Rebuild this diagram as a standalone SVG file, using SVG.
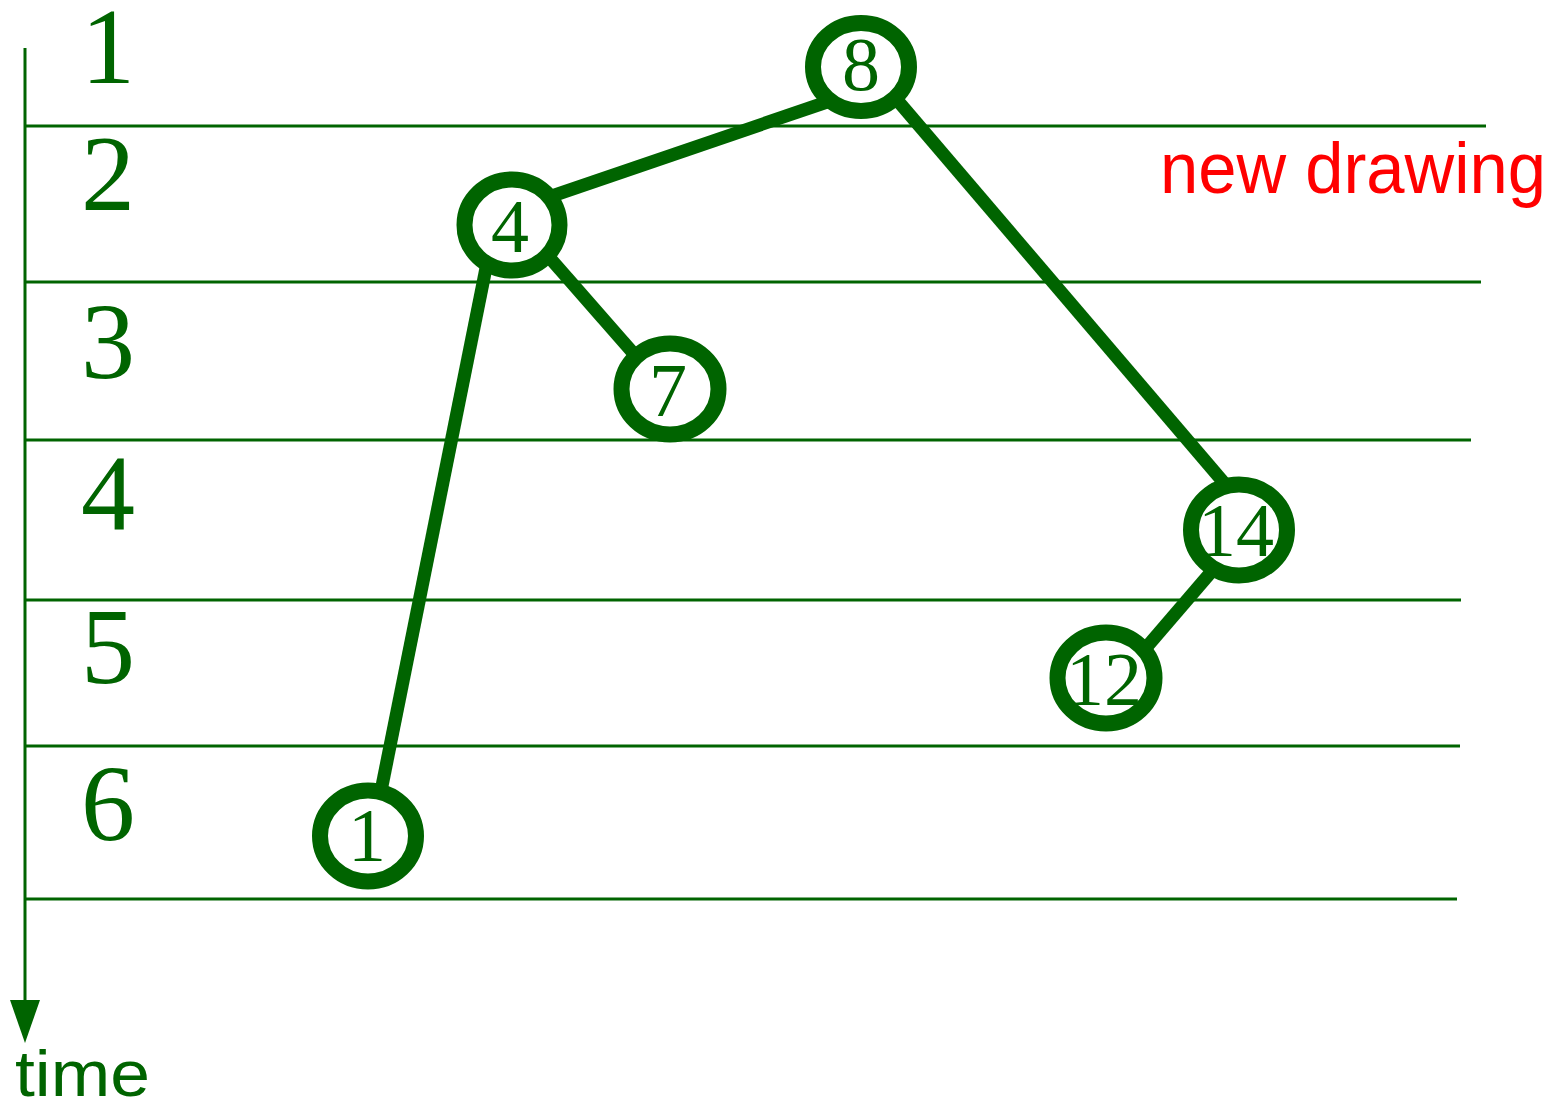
<svg xmlns="http://www.w3.org/2000/svg" width="1557" height="1107" viewBox="0 0 1557 1107">
  <style>
    .row { stroke: #006400; stroke-width: 3; fill: none; }
    .edge { stroke: #006400; stroke-width: 13; fill: none; }
    .node ellipse { fill: #ffffff; stroke: #006400; stroke-width: 16; }
    .num { font-family: "Liberation Serif", serif; fill: #006400; text-anchor: middle; }
    .lbl { font-size: 108px; }
    .nlbl { font-size: 76px; }
    .sans { font-family: "Liberation Sans", sans-serif; }
  </style>

  <!-- time axis -->
  <g id="axis">
    <line class="row" x1="25" y1="48" x2="25" y2="1004"/>
    <polygon points="10,1000 40,1000 25,1043" fill="#006400"/>
    <text class="sans" x="15" y="1096" font-size="64" fill="#006400" textLength="135" lengthAdjust="spacingAndGlyphs">time</text>
  </g>

  <!-- row separators -->
  <g id="rows">
    <line class="row" x1="25" y1="126" x2="1486" y2="126"/>
    <line class="row" x1="25" y1="282" x2="1481" y2="282"/>
    <line class="row" x1="25" y1="440" x2="1471" y2="440"/>
    <line class="row" x1="25" y1="600" x2="1461" y2="600"/>
    <line class="row" x1="25" y1="746" x2="1460" y2="746"/>
    <line class="row" x1="25" y1="899" x2="1457" y2="899"/>
  </g>

  <!-- row numbers -->
  <g id="row-labels">
    <text class="num lbl" x="108" y="83">1</text>
    <text class="num lbl" x="108" y="210">2</text>
    <text class="num lbl" x="108" y="378">3</text>
    <text class="num lbl" x="108" y="530">4</text>
    <text class="num lbl" x="108" y="683">5</text>
    <text class="num lbl" x="108" y="840">6</text>
  </g>

  <text id="caption" class="sans" x="1160" y="193" font-size="72" fill="#ff0000" textLength="386" lengthAdjust="spacingAndGlyphs">new drawing</text>

  <!-- tree edges -->
  <g id="connectors">
    <line class="edge" x1="830" y1="101" x2="552" y2="196"/>
    <line class="edge" x1="898" y1="101" x2="1225" y2="484"/>
    <line class="edge" x1="487" y1="263" x2="381" y2="791"/>
    <line class="edge" x1="549" y1="257" x2="634" y2="354"/>
    <line class="edge" x1="1212" y1="571" x2="1145" y2="649"/>
  </g>

  <!-- tree nodes -->
  <g id="node-8" class="node">
    <ellipse cx="861" cy="67" rx="48" ry="44"/>
    <text class="num nlbl" x="861" y="90">8</text>
  </g>
  <g id="node-4" class="node">
    <ellipse cx="512" cy="225" rx="47.5" ry="45.5"/>
    <text class="num nlbl" x="510" y="252">4</text>
  </g>
  <g id="node-7" class="node">
    <ellipse cx="670" cy="389" rx="48.5" ry="45.5"/>
    <text class="num nlbl" x="668" y="416">7</text>
  </g>
  <g id="node-14" class="node">
    <ellipse cx="1239" cy="530" rx="48" ry="45.5"/>
    <text class="num nlbl" x="1236" y="556">14</text>
  </g>
  <g id="node-12" class="node">
    <ellipse cx="1106" cy="678" rx="48.5" ry="45.5"/>
    <text class="num nlbl" x="1104" y="705">12</text>
  </g>
  <g id="node-1" class="node">
    <ellipse cx="368" cy="836" rx="48" ry="45.5"/>
    <text class="num nlbl" x="367" y="861">1</text>
  </g>
</svg>
